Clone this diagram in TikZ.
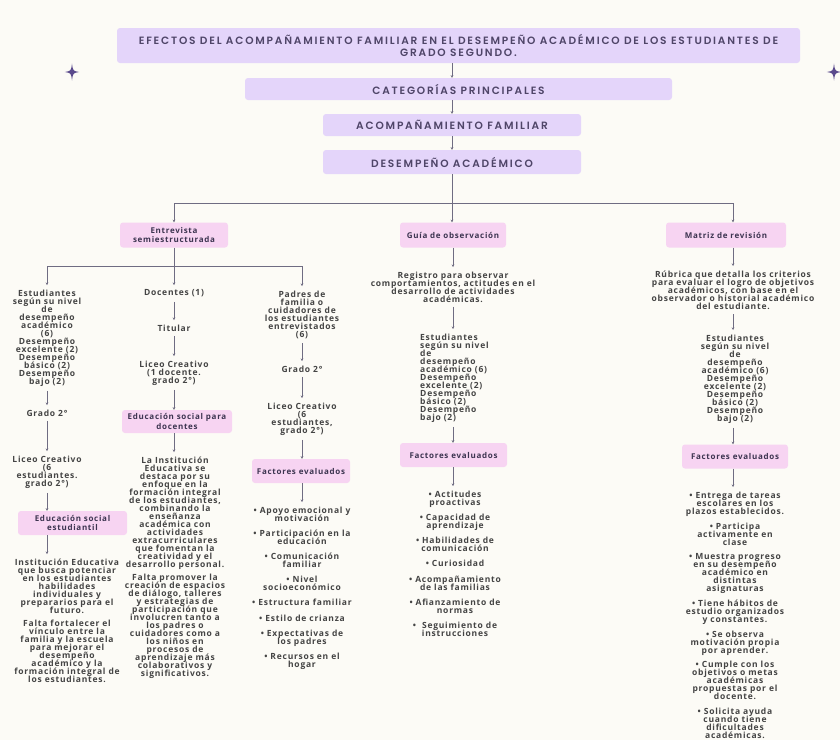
\documentclass[tikz,border=0pt]{standalone}
\usepackage{fontspec}
\setmainfont{Open Sans}
\newfontfamily\BodyF{Open Sans}[LetterSpace=9]
\newfontfamily\HdrF{Poppins}[BoldFont={* SemiBold}, LetterSpace=17]
\usetikzlibrary{arrows.meta}
\definecolor{bgc}{HTML}{FCFBF6}
\definecolor{lavc}{HTML}{E4D5FA}
\definecolor{pinkc}{HTML}{F7D4F2}
\definecolor{titc}{HTML}{4F4568}
\definecolor{bodyc}{HTML}{444444}
\definecolor{boxtc}{HTML}{3C3450}
\definecolor{linec}{HTML}{6F6C82}
\definecolor{starc}{HTML}{5A4A8C}
\tikzset{
  hdr/.style={fill=lavc, rounded corners=3pt, text=titc, font=\HdrF\bfseries\fontsize{10.6}{12}\selectfont, inner sep=0pt, align=center},
  pk/.style={fill=pinkc, rounded corners=3pt, text=boxtc, font=\BodyF\bfseries\fontsize{8}{9.5}\selectfont, inner sep=0pt, align=center},
  tx/.style={text=bodyc, font=\BodyF\bfseries\fontsize{8.5}{8}\selectfont, inner xsep=0pt, inner ysep=4.5pt, align=center, anchor=north},
  txl/.style={tx, align=left, anchor=north west},
  ar/.style={draw=linec, line width=0.7pt, -{Stealth[length=2.6pt,width=2.6pt]}},
  ln/.style={draw=linec, line width=0.7pt},
}
\newcommand{\fourstar}[3]{\fill[starc] (#1,#2-#3) .. controls (#1+1,#2-1) .. (#1+0.85*#3,#2) .. controls (#1+1,#2+1) .. (#1,#2+#3) .. controls (#1-1,#2+1) .. (#1-0.85*#3,#2) .. controls (#1-1,#2-1) .. (#1,#2-#3) -- cycle;}
\begin{document}
\setlength{\lineskiplimit}{-10pt}
\begin{tikzpicture}[x=1pt,y=-1pt]
\useasboundingbox (0,0) rectangle (840,740);
\fill[bgc] (0,0) rectangle (840,740);
\fourstar{72}{72}{8.5}
\fourstar{834}{72}{8.5}
% top chain
\node[hdr, minimum width=683pt, minimum height=35pt] (t0) at (458.5,45.5) {EFECTOS DEL ACOMPAÑAMIENTO FAMILIAR EN EL DESEMPEÑO ACADÉMICO DE LOS ESTUDIANTES DE\\GRADO SEGUNDO.};
\node[hdr, minimum width=427pt, minimum height=22pt] (t1) at (458.5,89) {CATEGORÍAS PRINCIPALES};
\node[hdr, minimum width=258pt, minimum height=22pt] (t2) at (452,125) {ACOMPAÑAMIENTO FAMILIAR};
\node[hdr, minimum width=258pt, minimum height=24pt] (t3) at (452,162) {DESEMPEÑO ACADÉMICO};
\draw[ar] (t0.south -| t2.north) -- (t1.north -| t2.north);
\draw[ar] (t1.south -| t2.north) -- (t2.north);
\draw[ar] (t2.south) -- (t3.north);
% level 2 boxes
\node[pk, minimum width=108pt, minimum height=25pt] (e0) at (174,235) {Entrevista\\semiestructurada};
\node[pk, minimum width=106pt, minimum height=25pt] (g0) at (453,235) {Guía de observación};
\node[pk, minimum width=120pt, minimum height=25pt] (m0) at (726,235) {Matriz de revisión};
\coordinate (jb) at (452,203);
\draw[ln] (t3.south) -- (jb);
\draw[ar] (jb) -| (e0.north);
\draw[ar] (jb) -- (g0.north -| jb);
% Entrevista branch
\node[tx] (L1) at (47,285) {Estudiantes\\según su nivel\\de\\desempeño\\académico\\(6)\\Desempeño\\excelente (2)\\Desempeño\\básico (2)\\Desempeño\\bajo (2)};
\node[tx] (D1) at (174,285) {Docentes (1)};
\node[tx] (P1) at (302,286) {Padres de\\familia o\\cuidadores de\\los estudiantes\\entrevistados\\(6)};
\coordinate (jb2) at (174,266);
\draw[ln] (e0.south) -- (jb2);
\draw[ar] (jb2) -| (L1.north);
\draw[ar] (jb2) -| (P1.north);
\draw[ar] (jb2) -- (D1.north);
% left column
\node[tx] (L2) at (47,405) {Grado 2°};
\node[tx] (L3) at (47,451) {Liceo Creativo\\(6\\estudiantes.\\grado 2°)};
\node[pk, minimum width=109pt, minimum height=24pt] (L4) at (72.5,523) {Educación social\\estudiantil};
\node[tx] (L5) at (67,554) {Institución Educativa\\que busca potenciar\\en los estudiantes\\habilidades\\individuales y\\prepararios para el\\futuro.};
\node[tx] (L6) at (67,615) {Falta fortalecer el\\vínculo entre la\\familia y la escuela\\para mejorar el\\desempeño\\académico y la\\formación integral de\\los estudiantes.};
\draw[ar] (L1.south) -- (L2.north);
\draw[ar] (L2.south) -- (L3.north);
\draw[ar] (L3.south) -- (L3.south |- L4.north);
\draw[ar] (L4.south -| L3.south) -- (L3.south |- L5.north);
% docentes column
\node[tx] (D2) at (174,320) {Titular};
\node[tx] (D3) at (174,356) {Liceo Creativo\\(1 docente.\\grado 2°)};
\node[pk, minimum width=110pt, minimum height=23pt] (D4) at (177,421.5) {Educación social para\\docentes};
\node[tx] (D5) at (175,452) {La Institución\\Educativa se\\destaca por su\\enfoque en la\\formación integral\\de los estudiantes,\\combinando la\\enseñanza\\académica con\\actividades\\extracurriculares\\que fomentan la\\creatividad y el\\desarrollo personal.};
\node[tx] (D6) at (175,569) {Falta promover la\\creación de espacios\\de diálogo, talleres\\y estrategias de\\participación que\\involucren tanto a\\los padres o\\cuidadores como a\\los niños en\\procesos de\\aprendizaje más\\colaborativos y\\significativos.};
\draw[ar] (D1.south) -- (D2.north);
\draw[ar] (D2.south) -- (D3.north);
\draw[ar] (D3.south) -- (D3.south |- D4.north);
\draw[ar] (D4.south -| D3.south) -- (D3.south |- D5.north);
% padres column
\node[tx] (P2) at (302,361) {Grado 2°};
\node[tx] (P3) at (302,398) {Liceo Creativo\\(6\\estudiantes,\\grado 2°)};
\node[pk, minimum width=98pt, minimum height=24pt] (P4) at (301,471) {Factores evaluados};
\node[tx] (Pb1) at (302,502) {• Apoyo emocional y\\motivación};
\node[tx] (Pb2) at (302,525) {• Participación en la\\educación};
\node[tx] (Pb3) at (302,548) {• Comunicación\\familiar};
\node[tx] (Pb4) at (302,571) {• Nivel\\socioeconómico};
\node[tx] (Pb5) at (302,594) {• Estructura familiar};
\node[tx] (Pb6) at (302,610) {• Estilo de crianza};
\node[tx] (Pb7) at (302,625) {• Expectativas de\\los padres};
\node[tx] (Pb8) at (302,648) {• Recursos en el\\hogar};
\draw[ar] (P1.south) -- (P2.north);
\draw[ar] (P2.south) -- (P3.north);
\draw[ar] (P3.south) -- (P3.south |- P4.north);
\draw[ar] (P4.south -| P3.south) -- (Pb1.north);
% guia column
\node[tx] (G1) at (453,267) {Registro para observar\\comportamientos, actitudes en el\\desarrollo de actividades\\académicas.};
\node[txl] (G2) at (420,329) {Estudiantes\\según su nivel\\de\\desempeño\\académico (6)\\Desempeño\\excelente (2)\\Desempeño\\básico (2)\\Desempeño\\bajo (2)};
\node[pk, minimum width=107pt, minimum height=24pt] (G3) at (453.5,455) {Factores evaluados};
\node[tx] (Gb1) at (455,486) {• Actitudes\\proactivas};
\node[tx] (Gb2) at (455,509) {• Capacidad de\\aprendizaje};
\node[tx] (Gb3) at (455,532) {• Habilidades de\\comunicación};
\node[tx] (Gb4) at (455,555) {• Curiosidad};
\node[tx] (Gb5) at (455,571) {• Acompañamiento\\de las familias};
\node[tx] (Gb6) at (455,594) {• Afianzamiento de\\normas};
\node[tx] (Gb7) at (455,617) {•\ \ Seguimiento de\\instrucciones};
\draw[ar] (g0.south -| G1.north) -- (G1.north);
\draw[ar] (G1.south) -- (G1.south |- G2.north);
\draw[ar] (G2.south -| G1.south) -- (G3.north -| G1.south);
\draw[ar] (G3.south -| G1.south) -- (G1.south |- Gb1.north);
% matriz column
\node[tx] (M1) at (733,266) {Rúbrica que detalla los criterios\\para evaluar el logro de objetivos\\académicos, con base en el\\observador o historial académico\\del estudiante.};
\node[tx] (M2) at (735,330) {Estudiantes\\según su nivel\\de\\desempeño\\académico (6)\\Desempeño\\excelente (2)\\Desempeño\\básico (2)\\Desempeño\\bajo (2)};
\node[pk, minimum width=106pt, minimum height=24pt] (M3) at (735,456.5) {Factores evaluados};
\node[tx] (Mb1) at (735,487) {• Entrega de tareas\\escolares en los\\plazos establecidos.};
\node[tx] (Mb2) at (735,518) {• Participa\\activamente en\\clase};
\node[tx] (Mb3) at (735,549) {• Muestra progreso\\en su desempeño\\académico en\\distintas\\asignaturas};
\node[tx] (Mb4) at (735,595) {• Tiene hábitos de\\estudio organizados\\y constantes.};
\node[tx] (Mb5) at (735,626) {• Se observa\\motivación propia\\por aprender.};
\node[tx] (Mb6) at (735,656) {• Cumple con los\\objetivos o metas\\académicas\\propuestas por el\\docente.};
\node[tx] (Mb7) at (735,703) {• Solicita ayuda\\cuando tiene\\dificultades\\académicas.};
\draw[ar] (jb) -| (m0.north -| M1.north);
\draw[ar] (m0.south -| M1.north) -- (M1.north);
\draw[ar] (M1.south) -- (M1.south |- M2.north);
\draw[ar] (M2.south -| M1.south) -- (M1.south |- M3.north);
\draw[ar] (M3.south -| M1.south) -- (M1.south |- Mb1.north);
\end{tikzpicture}
\end{document}
